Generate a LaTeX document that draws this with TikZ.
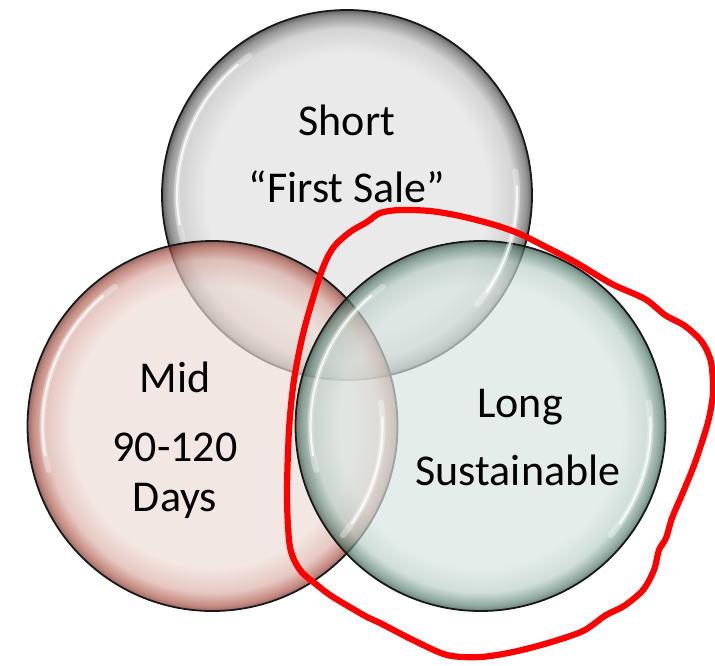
\documentclass[tikz,border=0pt]{standalone}
\usepackage{tikz}
\usepackage{fontspec}
\setmainfont{Carlito}
\definecolor{gcen}{HTML}{E0E0E0}
\definecolor{gmid}{HTML}{C0C0C0}
\definecolor{gring}{HTML}{606060}
\definecolor{gedge}{HTML}{1A1A1A}
\definecolor{rcen}{HTML}{EEDCD7}
\definecolor{rmid}{HTML}{DBAEA4}
\definecolor{rring}{HTML}{AA5244}
\definecolor{redge}{HTML}{62261E}
\definecolor{ecen}{HTML}{D9E5E2}
\definecolor{emid}{HTML}{B9CEC7}
\definecolor{ering}{HTML}{587F71}
\definecolor{eedge}{HTML}{264539}
\definecolor{penred}{HTML}{FF0000}
\pgfdeclareradialshading{glassgray}{\pgfpoint{0bp}{0bp}}{color(0bp)=(gcen); color(19bp)=(gcen); color(22.5bp)=(gmid); color(24.3bp)=(gring); color(25bp)=(gedge); color(50bp)=(gedge)}
\pgfdeclareradialshading{glassred}{\pgfpoint{0bp}{0bp}}{color(0bp)=(rcen); color(19bp)=(rcen); color(22.5bp)=(rmid); color(24.3bp)=(rring); color(25bp)=(redge); color(50bp)=(redge)}
\pgfdeclareradialshading{glassgreen}{\pgfpoint{0bp}{0bp}}{color(0bp)=(ecen); color(19bp)=(ecen); color(22.5bp)=(emid); color(24.3bp)=(ering); color(25bp)=(eedge); color(50bp)=(eedge)}
\tikzset{
  glass/.style={circle, minimum size=185pt, inner sep=0pt, draw=black!90, line width=0.9pt, fill opacity=0.68, draw opacity=1},
  hlsoft/.style={draw=white, line width=3pt, line cap=round, opacity=0.35},
  hl/.style={draw=white, line width=1.1pt, line cap=round, opacity=0.8},
  lbl/.style={font=\fontsize{22}{26}\selectfont, anchor=base, inner sep=0pt, text=black},
  penloop/.style={draw=penred, line width=3.1pt, line join=round, line cap=round}
}
\begin{document}
\begin{tikzpicture}[x=0.5pt,y=-0.5pt]
\useasboundingbox (0,0) rectangle (715,665);
% circles
\node[glass, shading=glassgray] (cShort) at (347,195) {};
\node[glass, shading=glassred] (cMid) at (212.5,426) {};
\node[glass, shading=glassgreen] (cLong) at (480.5,426) {};
% highlights
\foreach \c in {cShort,cMid,cLong}{
  \draw[hlsoft] ([shift={(125:85pt)}]\c.center) arc[start angle=125, end angle=195, radius=85pt];
  \draw[hl] ([shift={(130:85pt)}]\c.center) arc[start angle=130, end angle=190, radius=85pt];
  \draw[hlsoft] ([shift={(-40:85pt)}]\c.center) arc[start angle=-40, end angle=8, radius=85pt];
  \draw[hl] ([shift={(-35:85pt)}]\c.center) arc[start angle=-35, end angle=3, radius=85pt];
}
% labels
\node[lbl] (tShort) at (347,135) {Short};
\node[lbl] (tFirst) at (347,202) {“First Sale”};
\node[lbl] (tMid) at (175,392) {Mid};
\node[lbl] (tDays1) at (175,461) {90-120};
\node[lbl] (tDays2) at (175,511) {Days};
\node[lbl] (tLong) at (520,417) {Long};
\node[lbl] (tSust) at (518,485) {Sustainable};
% hand-drawn loop
\draw[penloop] plot[smooth cycle, tension=0.5] coordinates {
(321,273) (333,248) (350,232) (367,222) (380,213) (400,210) (430,211) (460,216)
(495,225) (520,234) (548,248) (575,262) (612,284) (645,299) (665,315) (685,326)
(702,342) (711,362) (713,392) (709,418) (702,442) (693,468) (681,497) (672,518)
(666,538) (659,550) (654,570) (643,590) (624,606) (606,615) (583,631) (548,643)
(513,652) (480,657) (447,655) (413,640) (380,623) (367,617) (333,597) (317,585)
(300,570) (290,547) (287,497) (289,430) (294,380) (304,330)};
\end{tikzpicture}
\end{document}
